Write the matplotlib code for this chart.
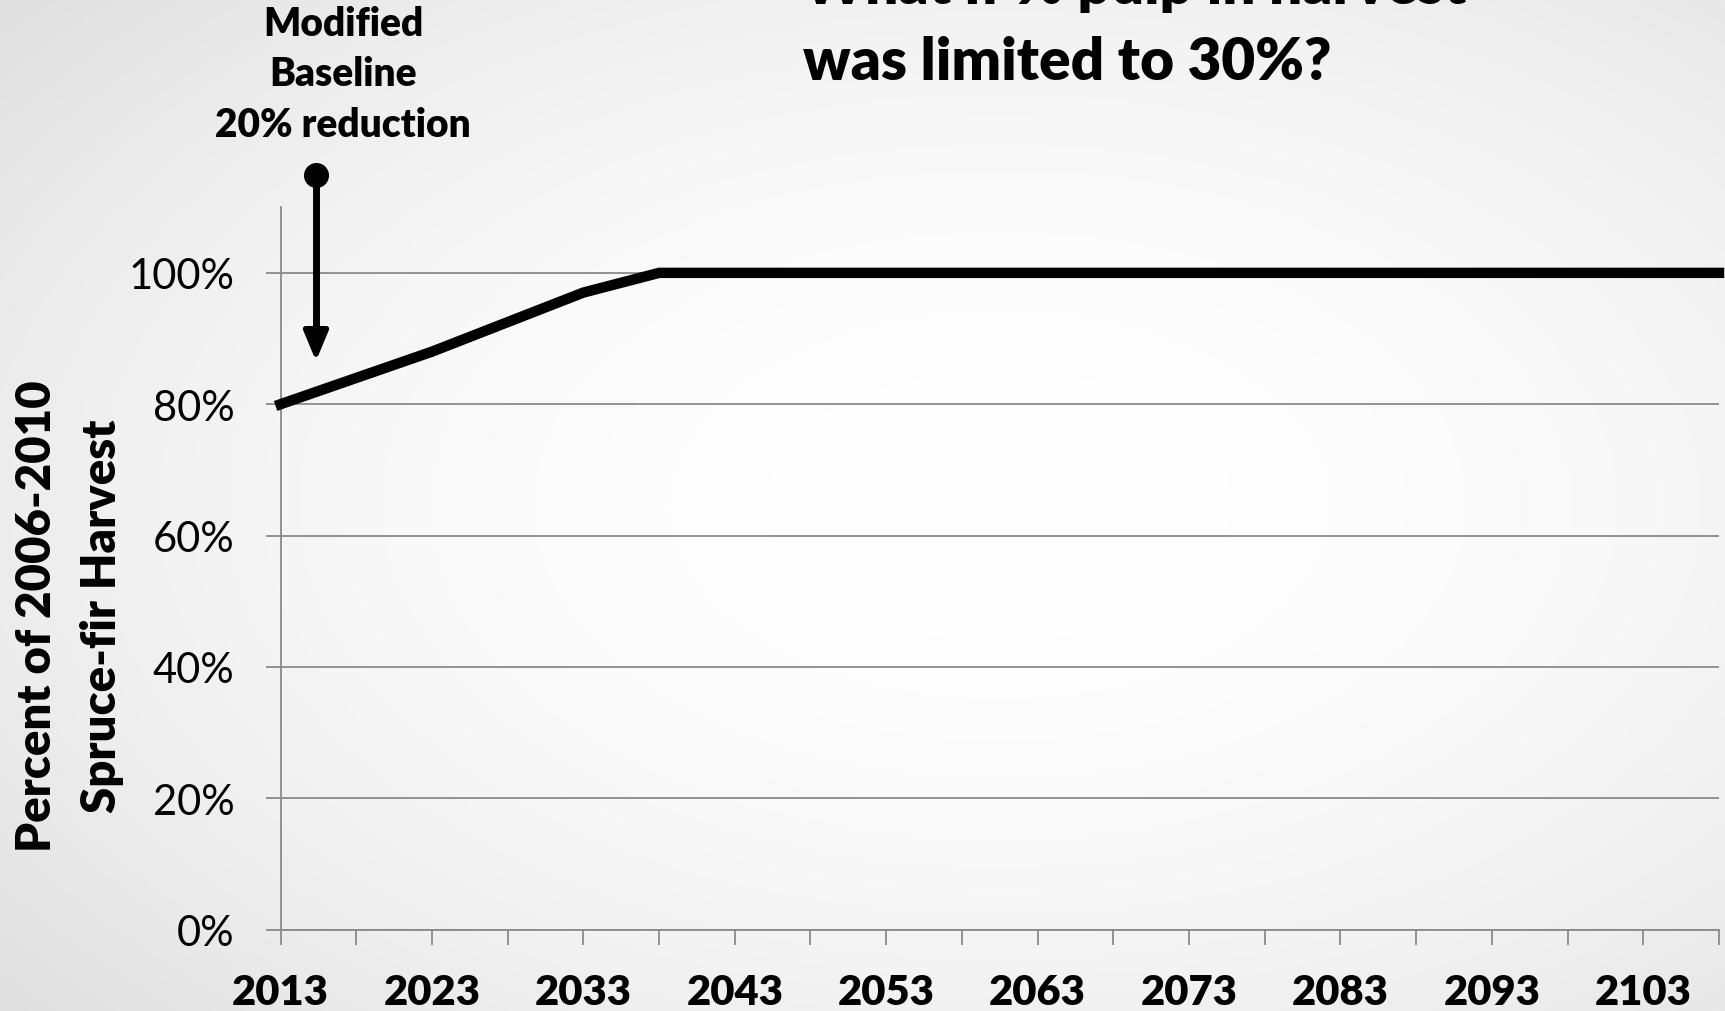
import matplotlib.pyplot as plt
import numpy as np

# harvest as fraction of the 2006-2010 level, one point every 5 years
years = [2013, 2018, 2023, 2028, 2033, 2038, 2043, 2048, 2053, 2058,
         2063, 2068, 2073, 2078, 2083, 2088, 2093, 2098, 2103, 2108]
harvest = [0.80, 0.84, 0.88, 0.925, 0.97, 1.00, 1.00, 1.00, 1.00, 1.00,
           1.00, 1.00, 1.00, 1.00, 1.00, 1.00, 1.00, 1.00, 1.00, 1.00]
ytick_vals = [0.0, 0.2, 0.4, 0.6, 0.8, 1.0]

W, H = 1725, 1012
fig = plt.figure(figsize=(W / 100, H / 100), dpi=100)

# soft radial background
bg = fig.add_axes([0, 0, 1, 1], zorder=-10)
gx, gy = np.meshgrid(np.linspace(0, 1, 400), np.linspace(0, 1, 240))
r = np.sqrt(((gx - 0.58) / 0.75) ** 2 + ((gy - 0.5) / 0.75) ** 2)
shade = 1.0 - 0.12 * np.clip(r, 0, 1.2) ** 2
bg.imshow(np.dstack([shade] * 3), extent=[0, 1, 0, 1], aspect='auto', origin='lower')
bg.axis('off')

font = 'Lato'
heavy = 'heavy'
ax = fig.add_axes([280.5 / W, 1 - 930.6 / H, (1719 - 280.5) / W, (930.6 - 208.2) / H])
ax.set_facecolor('none')

x = np.arange(len(years))
ax.plot(x, harvest, color='black', lw=7.5, solid_joinstyle='miter', clip_on=False, zorder=3)

ax.set_xlim(0, len(years) - 1)
ax.set_ylim(0, 1.10)
ax.set_xticks(x)
ax.set_xticklabels([str(y) if i % 2 == 0 else '' for i, y in enumerate(years)],
                   fontsize=30, fontweight=heavy, family=font)
ax.set_yticks(ytick_vals)
ax.set_yticklabels(['{:.0%}'.format(v) for v in ytick_vals], fontsize=30, family=font)
ax.tick_params(axis='x', length=11, width=1.3, color='#8a8a8a', pad=20)
ax.tick_params(axis='y', length=11, width=1.3, color='#8a8a8a', pad=22)
ax.yaxis.grid(True, color='#8a8a8a', lw=1.3)
ax.set_axisbelow(True)
for s in ['top', 'right']:
    ax.spines[s].set_visible(False)
for s in ['left', 'bottom']:
    ax.spines[s].set_color('#8a8a8a')
    ax.spines[s].set_linewidth(1.3)

fig.text(37 / W, 1 - 616 / H, 'Percent of 2006-2010', rotation=90, ha='center', va='center',
         fontsize=34, fontweight=heavy, family=font)
fig.text(102 / W, 1 - 616 / H, 'Spruce-fir Harvest', rotation=90, ha='center', va='center',
         fontsize=34, fontweight=heavy, family=font)

# title, first line runs off the top edge
fig.text(803 / W, 1 - 4 / H, 'What if % pulp in harvest', ha='left', va='baseline',
         fontsize=42, fontweight=heavy, family=font)
fig.text(803 / W, 1 - 80 / H, 'was limited to 30%?', ha='left', va='baseline',
         fontsize=42, fontweight=heavy, family=font)

# callout for the first year
for i, line in enumerate(['Modified', 'Baseline', '20% reduction']):
    fig.text(343 / W, 1 - (24 + 50.6 * i) / H, line, ha='center', va='center',
             fontsize=28, fontweight=heavy, family=font)
px, top, tip = 316 / W, 1 - 176 / H, 1 - 362 / H
fig.add_artist(plt.Line2D([px, px], [top, 1 - 330 / H], color='black', lw=5,
                          solid_capstyle='butt'))
fig.add_artist(plt.Line2D([px], [top], marker='o', ms=17, color='black'))
ax.annotate('', xy=(px, tip), xycoords='figure fraction',
            xytext=(px, 1 - 320 / H), textcoords='figure fraction',
            arrowprops=dict(arrowstyle='-|>,head_length=1.8,head_width=0.75', color='black',
                            lw=4, shrinkA=0, shrinkB=0))

fig.savefig('out.png', dpi=100)
